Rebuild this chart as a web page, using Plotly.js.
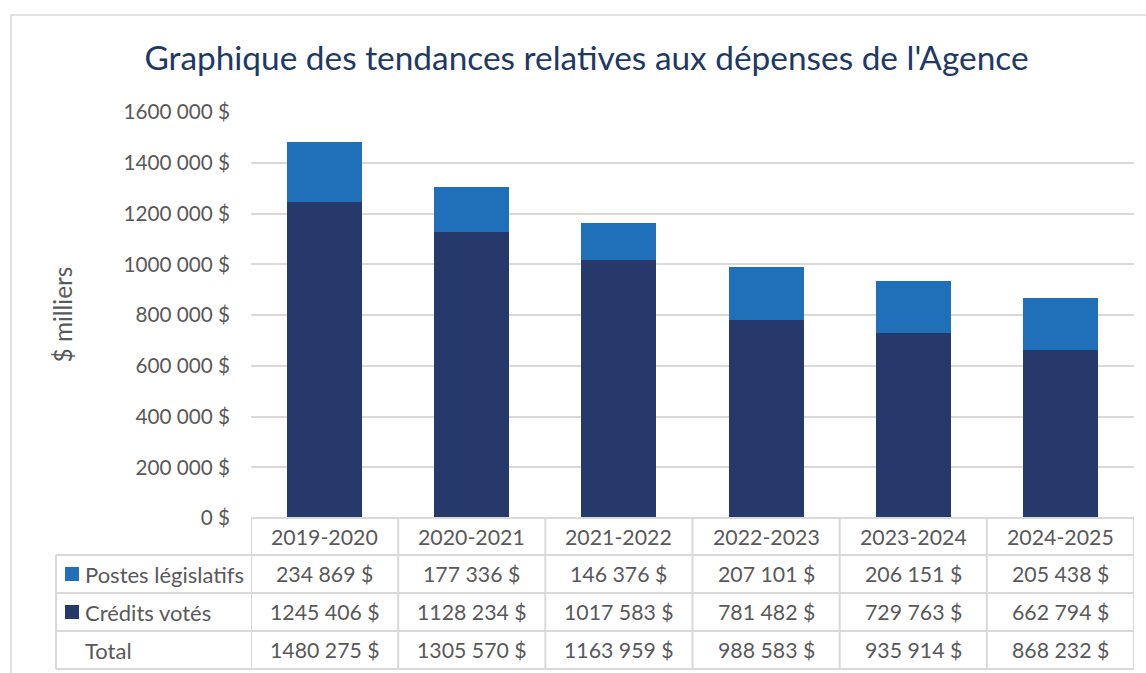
<!DOCTYPE html>
<html>
<head>
<meta charset="utf-8">
<script src="https://cdn.plot.ly/plotly-3.0.1.min.js"></script>
<style>html,body{margin:0;padding:0;background:#fff}#chart{width:1146px;height:673px}</style>
</head>
<body>
<div id="chart"></div>
<script>
var categories = ["2019-2020","2020-2021","2021-2022","2022-2023","2023-2024","2024-2025"];
var postesLegislatifs = [234869,177336,146376,207101,206151,205438];
var creditsVotes = [1245406,1128234,1017583,781482,729763,662794];
var totals = [1480275,1305570,1163959,988583,935914,868232];
var tickVals = [0,200000,400000,600000,800000,1000000,1200000,1400000,1600000];
var tickText = ["0 $","200 000 $","400 000 $","600 000 $","800 000 $","1000 000 $","1200 000 $","1400 000 $","1600 000 $"];
var seriesNames = ["Postes législatifs","Crédits votés","Total"];

var W = 1146, H = 673;
var L = 251, R = 1134, T = 112, B = 518;
function px(x){ return (x - L) / (R - L); }
function py(y){ return (B - y) / (B - T); }
function fmt(v){
  var th = Math.floor(v/1000), rest = v % 1000;
  var r = String(rest); while (r.length < 3) r = "0" + r;
  return (th > 0 ? th + " " + r : String(rest)) + " $";
}

var cLight = "#1F70B8", cDark = "#253A6B", grid = "#D9D9D9", txt = "#595959";
var FONT = "Lato, 'Open Sans', sans-serif";
var TBL = 21.3, LBL = 22;

var traces = [
  {type:"bar", name:seriesNames[1], x:categories, y:creditsVotes, marker:{color:cDark}, hoverinfo:"skip"},
  {type:"bar", name:seriesNames[0], x:categories, y:postesLegislatifs, marker:{color:cLight}, hoverinfo:"skip"}
];

var rowsY = [536.5, 574, 612, 650];
var shapes = [], annotations = [];
// outer chart border
shapes.push({type:"rect", xref:"paper", yref:"paper", x0:px(11), x1:px(1160), y0:py(15), y1:py(690), line:{color:grid, width:1.5}, fillcolor:"rgba(0,0,0,0)", layer:"below"});
// table horizontal lines
shapes.push({type:"line", xref:"paper", yref:"paper", x0:px(251), x1:px(1134), y0:py(518), y1:py(518), line:{color:grid, width:2}});
[555, 593, 631, 669].forEach(function(yy){
  shapes.push({type:"line", xref:"paper", yref:"paper", x0:px(56), x1:px(1134), y0:py(yy), y1:py(yy), line:{color:grid, width:2}});
});
// table vertical lines
for (var i = 0; i <= categories.length; i++) {
  shapes.push({type:"line", xref:"x", yref:"paper", x0:i-0.5, x1:i-0.5, y0:py(518), y1:py(669), line:{color:grid, width:2}});
}
shapes.push({type:"line", xref:"paper", yref:"paper", x0:px(56), x1:px(56), y0:py(555), y1:py(669), line:{color:grid, width:2}});
// legend keys
shapes.push({type:"rect", xref:"paper", yref:"paper", x0:px(65), x1:px(79), y0:py(567), y1:py(581), fillcolor:cLight, line:{width:0}});
shapes.push({type:"rect", xref:"paper", yref:"paper", x0:px(65), x1:px(79), y0:py(605), y1:py(619), fillcolor:cDark, line:{width:0}});

// row labels
[seriesNames[0], seriesNames[1], seriesNames[2]].forEach(function(n, k){
  annotations.push({xref:"paper", yref:"paper", x:px(83), y:py(rowsY[k+1]), xanchor:"left", yanchor:"middle", text:n, showarrow:false, font:{family:FONT, size:LBL, color:txt}});
});
categories.forEach(function(c, j){
  annotations.push({xref:"x", yref:"paper", x:c, y:py(rowsY[0]), xanchor:"center", yanchor:"middle", text:c, showarrow:false, font:{family:FONT, size:TBL, color:txt}});
  annotations.push({xref:"x", yref:"paper", x:c, y:py(rowsY[1]), xanchor:"center", yanchor:"middle", text:fmt(postesLegislatifs[j]), showarrow:false, font:{family:FONT, size:TBL, color:txt}});
  annotations.push({xref:"x", yref:"paper", x:c, y:py(rowsY[2]), xanchor:"center", yanchor:"middle", text:fmt(creditsVotes[j]), showarrow:false, font:{family:FONT, size:TBL, color:txt}});
  annotations.push({xref:"x", yref:"paper", x:c, y:py(rowsY[3]), xanchor:"center", yanchor:"middle", text:fmt(totals[j]), showarrow:false, font:{family:FONT, size:TBL, color:txt}});
});
// y axis title
annotations.push({xref:"paper", yref:"paper", x:px(62), y:py(314.5), xanchor:"center", yanchor:"middle", text:"$ milliers", textangle:-90, showarrow:false, font:{family:FONT, size:24.4, color:txt}});

var layout = {
  width:W, height:H,
  margin:{l:L, r:W-R, t:T, b:H-B, pad:0},
  paper_bgcolor:"#fff", plot_bgcolor:"#fff",
  barmode:"stack", bargap:0.49, showlegend:false,
  title:{text:"Graphique des tendances relatives aux dépenses de l'Agence", font:{family:FONT, size:33.4, color:"#203864"}, xref:"container", yref:"container", x:586.5/W, y:1-58/H, xanchor:"center", yanchor:"middle"},
  xaxis:{type:"category", range:[-0.5, 5.5], showticklabels:false, showgrid:false, zeroline:false, showline:false, fixedrange:true},
  yaxis:{range:[0,1600000], tickvals:tickVals, ticktext:tickText, showgrid:true, gridcolor:grid, gridwidth:2, zeroline:false, showline:false, ticks:"", ticklabelstandoff:20, tickfont:{family:FONT, size:20.7, color:txt}, fixedrange:true},
  shapes:shapes, annotations:annotations
};
Plotly.newPlot("chart", traces, layout, {staticPlot:true, displayModeBar:false});
</script>
</body>
</html>
